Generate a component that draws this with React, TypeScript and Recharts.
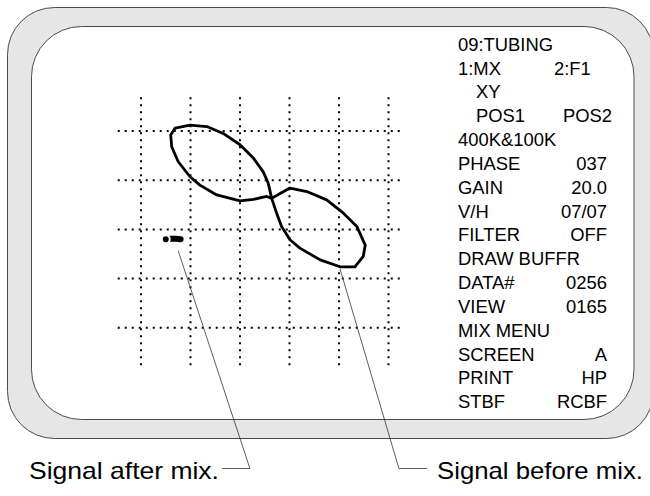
import { LineChart, Line, XAxis, YAxis, ReferenceLine } from 'recharts';

// Screen trace, in grid divisions (x right, y up; grid lines sit on integers)
const beforeMixX = [
    2.64, 2.57, 2.47, 2.27, 2.0, 1.66, 1.33, 0.99, 0.69, 0.6, 0.62, 0.75, 0.99, 1.19, 1.53, 2.0, 2.27, 2.54, 2.64,
    2.81, 3.01, 3.35, 3.75, 4.09, 4.36, 4.53, 4.49, 4.32, 4.02, 3.62, 3.21, 3.01, 2.84, 2.74, 2.64,
];
const beforeMixY = [
    2.63, 2.94, 3.17, 3.45, 3.72, 3.95, 4.09, 4.12, 4.06, 3.92, 3.68, 3.38, 3.07, 2.9, 2.7, 2.58, 2.61, 2.67, 2.63,
    2.73, 2.84, 2.77, 2.6, 2.33, 2.06, 1.68, 1.45, 1.24, 1.24, 1.38, 1.62, 1.79, 2.06, 2.33, 2.63,
];
// small cluster left after mixing
const afterMixX = [0.5, 0.6, 0.7, 0.8];
const afterMixY = [1.8, 1.81, 1.81, 1.8];

// callout leader lines (grid units)
const calloutAfterX = [0.75, 2.2, 1.64];
const calloutAfterY = [1.57, -2.86, -2.86];
const calloutBeforeX = [4.02, 5.21, 5.78];
const calloutBeforeY = [1.2, -2.86, -2.86];

const gridCols = [0, 1, 2, 3, 4, 5];
const gridRows = [0, 1, 2, 3, 4];

const menuLabels = [
    '09:TUBING', '1:MX', 'XY', 'POS1', '400K&100K', 'PHASE', 'GAIN', 'V/H',
    'FILTER', 'DRAW BUFFR', 'DATA#', 'VIEW', 'MIX MENU', 'SCREEN', 'PRINT', 'STBF',
];
const menuValues = ['', '2:F1', '', 'POS2', '', '037', '20.0', '07/07', 'OFF', '', '0256', '0165', '', 'A', 'HP', 'RCBF'];
const indented = ['XY', 'POS1'];

const W = 650;
const H = 496;
const GRID_X0 = 141;
const CELL_W = 49.5;
const GRID_Y0 = 327.8;
const CELL_H = 49.2;
const FONT = 'Liberation Sans, Arial, sans-serif';

const toPoints = (xs: number[], ys: number[]) => xs.map((x, i) => ({ x, y: ys[i] }));

export default function App() {
    const xDomain = [-GRID_X0 / CELL_W, (W - GRID_X0) / CELL_W];
    const yDomain = [(GRID_Y0 - H) / CELL_H, GRID_Y0 / CELL_H];

    return (
        <div style={{ position: 'absolute', left: 0, top: 0, width: W, height: H, background: '#fff' }}>
            <svg width={W} height={H} style={{ position: 'absolute', left: 0, top: 0 }}>
                <rect x={7.5} y={7.5} width={646} height={431} rx={47} fill="#e6e6e6" stroke="#4a4a4a" strokeWidth={1} />
                <rect x={31.5} y={26.5} width={602.5} height={393} rx={50} fill="#fff" stroke="#4a4a4a" strokeWidth={1} />
            </svg>
            <div style={{ position: 'absolute', left: 0, top: 0 }}>
                <LineChart width={W} height={H} margin={{ top: 0, right: 0, bottom: 0, left: 0 }}>
                    <XAxis type="number" dataKey="x" domain={xDomain} allowDataOverflow hide />
                    <YAxis type="number" dataKey="y" domain={yDomain} allowDataOverflow hide />
                    {gridCols.map((c) => (
                        <ReferenceLine
                            key={'c' + c}
                            segment={[{ x: c, y: -0.76 }, { x: c, y: 4.77 }]}
                            stroke="#000"
                            strokeWidth={2}
                            strokeDasharray="2 5"
                        />
                    ))}
                    {gridRows.map((r) => (
                        <ReferenceLine
                            key={'r' + r}
                            segment={[{ x: -0.47, y: r }, { x: 5.27, y: r }]}
                            stroke="#000"
                            strokeWidth={2}
                            strokeDasharray="2 5"
                        />
                    ))}
                    <Line
                        data={toPoints(calloutAfterX, calloutAfterY)}
                        dataKey="y"
                        type="linear"
                        stroke="#333"
                        strokeWidth={0.8}
                        dot={false}
                        isAnimationActive={false}
                    />
                    <Line
                        data={toPoints(calloutBeforeX, calloutBeforeY)}
                        dataKey="y"
                        type="linear"
                        stroke="#333"
                        strokeWidth={0.8}
                        dot={false}
                        isAnimationActive={false}
                    />
                    <Line
                        data={toPoints(beforeMixX, beforeMixY)}
                        dataKey="y"
                        type="linear"
                        stroke="#000"
                        strokeWidth={2.8}
                        strokeLinejoin="round"
                        dot={false}
                        isAnimationActive={false}
                    />
                    <Line
                        data={toPoints(afterMixX, afterMixY)}
                        dataKey="y"
                        type="linear"
                        stroke="#000"
                        strokeWidth={6}
                        strokeLinecap="round"
                        strokeLinejoin="round"
                        dot={false}
                        isAnimationActive={false}
                    />
                </LineChart>
            </div>
            <svg width={W} height={H} style={{ position: 'absolute', left: 0, top: 0, pointerEvents: 'none' }}>
                <g fontFamily={FONT} fontSize={18.4} fill="#000">
                    {menuLabels.map((label, i) => {
                        const y = 50.7 + i * 23.84;
                        const value = menuValues[i];
                        const leftAligned = value === '2:F1' || value === 'POS2';
                        return (
                            <g key={label}>
                                <text x={indented.includes(label) ? 476 : 458} y={y}>
                                    {label}
                                </text>
                                {value && (
                                    <text
                                        x={leftAligned ? (value === '2:F1' ? 554 : 563) : 607}
                                        y={y}
                                        textAnchor={leftAligned ? 'start' : 'end'}
                                    >
                                        {value}
                                    </text>
                                )}
                            </g>
                        );
                    })}
                </g>
                <g fontFamily={FONT} fontSize={24} fill="#000">
                    <text x={29} y={479} textLength={190} lengthAdjust="spacingAndGlyphs">
                        Signal after mix.
                    </text>
                    <text x={437} y={479} textLength={206} lengthAdjust="spacingAndGlyphs">
                        Signal before mix.
                    </text>
                </g>
            </svg>
        </div>
    );
}
